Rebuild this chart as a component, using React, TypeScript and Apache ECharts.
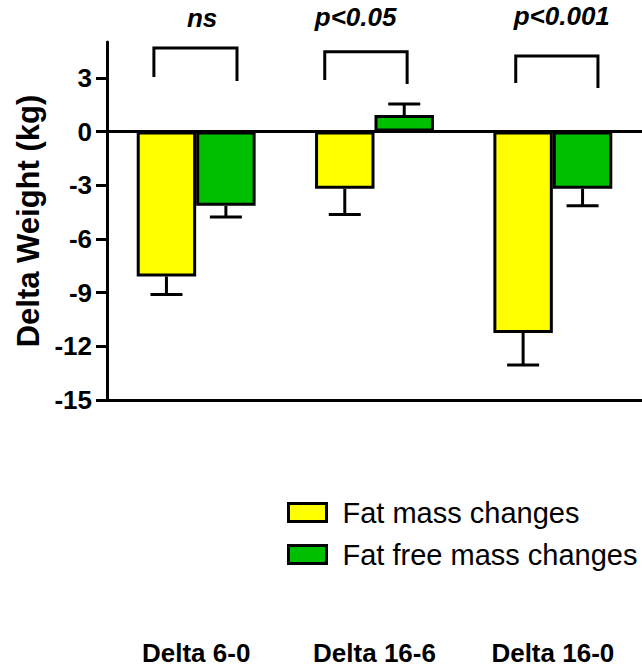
import React, { useEffect, useRef } from "react";
import * as echarts from "echarts";

const categories = ["Delta 6-0", "Delta 16-6", "Delta 16-0"];
const seriesNames = ["Fat mass changes", "Fat free mass changes"];
const fatMass = [-8.1, -3.2, -11.25];
const fatMassErr = [1.0, 1.44, 1.8];
const fatFreeMass = [-4.15, 0.92, -3.2];
const fatFreeMassErr = [0.63, 0.62, 0.95];
const yTicks = [-15, -12, -9, -6, -3, 0, 3];

// significance annotations
const pLabels = ["ns", "p<0.05", "p<0.001"];
const pLabelValue = [5.6, 5.65, 5.7];
const pLabelShift = [0.033, -0.106, 0.05];
const bracketTop = [4.66, 4.46, 4.22];
const bracketLeftEnd = [3.04, 2.88, 2.71];
const bracketRightEnd = [2.82, 2.65, 2.43];
const bracketLeftShift = [-0.237, -0.279, -0.208];
const bracketRightShift = [0.229, 0.183, 0.253];

const FONT = "Liberation Sans, Arial, Helvetica, sans-serif";

function errorSeries(values: number[], errs: number[], side: number) {
  return {
    type: "custom",
    silent: true,
    z: 5,
    data: values.map((v, i) => [i, v, errs[i]]),
    renderItem: (params: any, api: any) => {
      const idx = api.value(0);
      const mean = api.value(1);
      const err = api.value(2);
      const catW = api.size([1, 0])[0];
      const barW = catW / 3;
      const base = api.coord([idx, mean]);
      const endVal = mean + (mean < 0 ? -err : err);
      const end = api.coord([idx, endVal]);
      const x = base[0] + side * barW / 2;
      const capHalf = 16;
      const style = { stroke: "#000", lineWidth: 3 };
      return {
        type: "group",
        children: [
          { type: "line", shape: { x1: x, y1: base[1], x2: x, y2: end[1] }, style },
          { type: "line", shape: { x1: x - capHalf, y1: end[1], x2: x + capHalf, y2: end[1] }, style },
        ],
      };
    },
  };
}

export default function App() {
  const ref = useRef<HTMLDivElement>(null);
  useEffect(() => {
    if (!ref.current) return;
    const chart = echarts.init(ref.current, null, { renderer: "svg" });
    const option: any = {
      animation: false,
      backgroundColor: "#fff",
      grid: { left: 107, top: 42, width: 540, height: 358 },
      legend: {
        data: seriesNames,
        orient: "vertical",
        left: 282,
        top: 493,
        itemWidth: 38,
        itemHeight: 18,
        itemGap: 13,
        icon: "rect",
        selectedMode: false,
        itemStyle: { borderColor: "#000", borderWidth: 3 },
        textStyle: {
          fontFamily: FONT,
          fontSize: 29,
          color: "#000",
          padding: [0, 0, 0, 11],
        },
      },
      xAxis: {
        type: "category",
        data: categories,
        axisLine: { show: true, onZero: false, lineStyle: { color: "#000", width: 3 } },
        axisTick: { show: false },
        axisLabel: {
          margin: 240,
          fontFamily: FONT,
          fontSize: 26,
          fontWeight: "bold",
          color: "#000",
        },
        splitLine: { show: false },
      },
      yAxis: {
        type: "value",
        min: -15,
        max: 5,
        interval: 3,
        name: "Delta Weight (kg)",
        nameLocation: "middle",
        nameGap: 61,
        nameTextStyle: {
          fontFamily: FONT,
          fontSize: 31,
          fontWeight: "bold",
          color: "#000",
        },
        axisLine: { show: true, onZero: false, lineStyle: { color: "#000", width: 3 } },
        axisTick: {
          show: true,
          length: 11,
          lineStyle: { color: "#000", width: 3 },
          customValues: yTicks,
        },
        axisLabel: {
          margin: 15,
          fontFamily: FONT,
          fontSize: 26,
          fontWeight: "bold",
          color: "#000",
          customValues: yTicks,
        },
        splitLine: { show: false },
      },
      series: [
        {
          name: seriesNames[0],
          type: "bar",
          data: fatMass,
          barWidth: "33.333%",
          barGap: "0%",
          itemStyle: { color: "#FFFF00", borderColor: "#000", borderWidth: 3 },
          markLine: {
            silent: true,
            symbol: ["none", "none"],
            label: { show: false },
            lineStyle: { color: "#000", width: 3, type: "solid" },
            data: [{ yAxis: 0 }],
          },
        },
        {
          name: seriesNames[1],
          type: "bar",
          data: fatFreeMass,
          barWidth: "33.333%",
          barGap: "0%",
          itemStyle: { color: "#00BF00", borderColor: "#000", borderWidth: 3 },
        },
        errorSeries(fatMass, fatMassErr, -1),
        errorSeries(fatFreeMass, fatFreeMassErr, 1),
        {
          type: "custom",
          silent: true,
          z: 6,
          data: categories.map((_, i) => [
            i,
            bracketTop[i],
            bracketLeftEnd[i],
            bracketRightEnd[i],
            pLabelValue[i],
          ]),
          renderItem: (params: any, api: any) => {
            const i = params.dataIndex;
            const idx = api.value(0);
            const catW = api.size([1, 0])[0];
            const top = api.coord([idx, api.value(1)]);
            const lEnd = api.coord([idx, api.value(2)]);
            const rEnd = api.coord([idx, api.value(3)]);
            const lab = api.coord([idx, api.value(4)]);
            const xl = top[0] + bracketLeftShift[i] * catW;
            const xr = top[0] + bracketRightShift[i] * catW;
            return {
              type: "group",
              children: [
                {
                  type: "polyline",
                  shape: {
                    points: [
                      [xl, lEnd[1]],
                      [xl, top[1]],
                      [xr, top[1]],
                      [xr, rEnd[1]],
                    ],
                  },
                  style: { stroke: "#000", lineWidth: 3, fill: null },
                },
                {
                  type: "text",
                  x: lab[0] + pLabelShift[i] * catW,
                  y: lab[1],
                  style: {
                    text: pLabels[i],
                    fontFamily: FONT,
                    fontSize: 26,
                    fontWeight: "bold",
                    fontStyle: "italic",
                    fill: "#000",
                    textAlign: "center",
                    textVerticalAlign: "bottom",
                  },
                },
              ],
            };
          },
        },
      ],
    };
    chart.setOption(option);
    return () => chart.dispose();
  }, []);
  return (
    <div
      ref={ref}
      style={{ position: "absolute", left: 0, top: 0, width: 642, height: 669 }}
    />
  );
}
